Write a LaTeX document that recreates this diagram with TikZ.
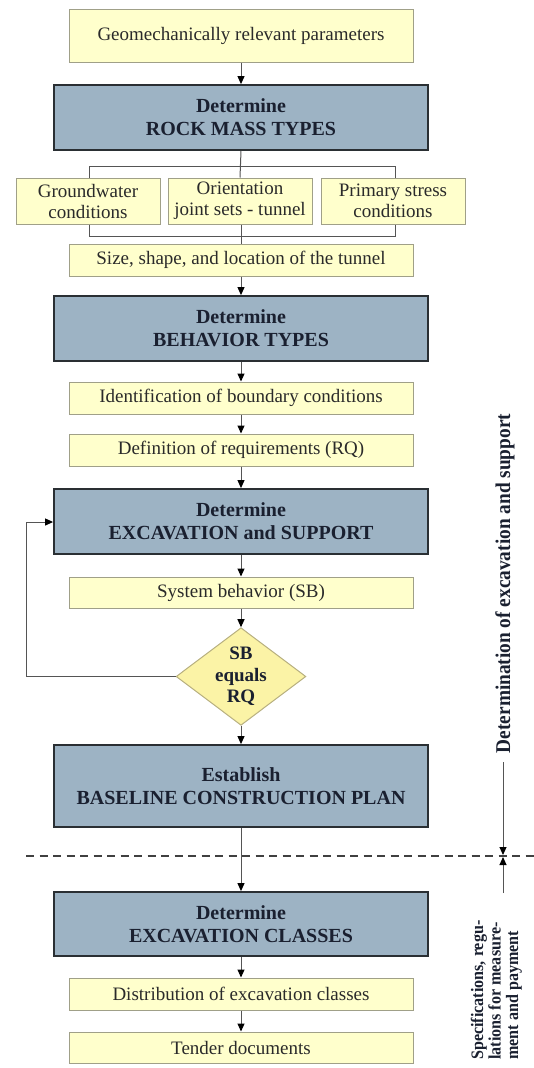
\documentclass[tikz,border=0pt]{standalone}
\usepackage{fontspec}
\setmainfont{Liberation Serif}
\usetikzlibrary{shapes.geometric,arrows.meta}
\definecolor{ybox}{HTML}{FFFFCC}
\definecolor{yborder}{HTML}{A0A088}
\definecolor{dbox}{HTML}{9DB3C4}
\definecolor{dborder}{HTML}{2A2F33}
\definecolor{dia}{HTML}{FBF3A6}
\definecolor{diaborder}{HTML}{B8B080}
\definecolor{lin}{HTML}{555555}
\definecolor{txt}{HTML}{2A2A2A}
\definecolor{dtxt}{HTML}{1A2030}
\begin{document}
\begin{tikzpicture}[x=1pt,y=-1pt,
 yb/.style={draw=yborder,line width=1pt,fill=ybox,inner sep=0pt,text=txt,
   font=\fontsize{19}{21}\selectfont,align=center,minimum width=344pt,minimum height=32pt},
 sb/.style={yb,minimum width=144pt,minimum height=46pt},
 db/.style={draw=dborder,line width=1.8pt,fill=dbox,minimum width=374pt,minimum height=65pt,
   inner sep=0pt,font=\fontsize{20}{23}\selectfont\bfseries,text=dtxt,align=center},
 dm/.style={diamond,draw=diaborder,line width=1pt,fill=dia,minimum width=124pt,minimum height=93pt,
   inner sep=0pt,aspect=1.33,font=\fontsize{19}{21.5}\selectfont\bfseries,text=dtxt,align=center},
 conn/.style={draw=lin,line width=1pt},
 arr/.style={conn,-{Triangle[length=8pt,width=7pt,color=black]}},
 side/.style={rotate=90,inner sep=0pt,text=dtxt},
]
\useasboundingbox (0,0) rectangle (534,1068);
\fill[white] (0,0) rectangle (534,1068);

\node[yb,minimum height=53pt] (geo) at (241,35.5) {Geomechanically relevant parameters};
\node[db] (rock) at (241,117.5) {Determine\\ROCK MASS TYPES};
\node[sb] (gw) at (88,201) {Groundwater\\conditions};
\node[sb] (ori) at (240,201) {Orientation\\joint sets - tunnel};
\node[sb] (ps) at (393,201) {Primary stress\\conditions};
\node[yb] (size) at (241,260) {Size, shape, and location of the tunnel};
\node[db] (beh) at (241,328.5) {Determine\\BEHAVIOR TYPES};
\node[yb] (ident) at (241,398) {Identification of boundary conditions};
\node[yb] (defn) at (241,450) {Definition of requirements (RQ)};
\node[db] (exc) at (241,521.5) {Determine\\EXCAVATION and SUPPORT};
\node[yb,minimum height=31pt] (sys) at (241,592.5) {System behavior (SB)};
\node[dm] (eq) at (241,676.5) {SB\\equals\\RQ};
\node[db,minimum height=82pt] (base) at (241,786) {Establish\\BASELINE CONSTRUCTION PLAN};
\node[db,minimum height=64pt] (excl) at (241,924) {Determine\\EXCAVATION CLASSES};
\node[yb] (dist) at (241,994) {Distribution of excavation classes};
\node[yb,minimum height=31pt] (tend) at (241,1047.5) {Tender documents};

% arrows
\draw[arr] (geo) -- (rock);
\draw[arr] (size) -- (beh);
\draw[arr] (beh) -- (ident);
\draw[arr] (ident) -- (defn);
\draw[arr] (defn) -- (exc);
\draw[arr] (exc) -- (sys);
\draw[arr] (sys) -- (eq);
\draw[arr] (eq) -- (base);
\draw[arr] (base) -- (excl);
\draw[arr] (excl) -- (dist);
\draw[arr] (dist) -- (tend);

% brackets
\coordinate (bt1) at (89,166);
\coordinate (bt2) at (395,166);
\coordinate (bb1) at (89,236);
\coordinate (bb2) at (395,236);
\draw[conn] (rock.south) -- (ori.north);
\draw[conn] (gw.north -| bt1) -- (bt1) -- (bt2) -- (ps.north -| bt2);
\draw[conn] (gw.south -| bb1) -- (bb1) -- (bb2) -- (ps.south -| bb2);
\draw[conn] (ori.south -| size.north) -- (size.north);

% feedback loop
\coordinate (fb1) at (26,676.5);
\coordinate (fb2) at (26,522);
\draw[arr] (eq.west) -- (fb1) -- (fb2) -- (exc.west |- fb2);

% dashed separator
\coordinate (d1) at (26,856);
\coordinate (d2) at (534,856);
\draw[draw=black!75,line width=1.3pt,dash pattern=on 8pt off 5.5pt] (d1) -- (d2);

% side annotations
\node[side] (det) at (505,583.5)
  {\scalebox{0.92}[1]{\fontsize{21}{21}\selectfont\bfseries Determination of excavation and support}};
\node[side,anchor=west] (spec) at (497,1060)
  {\scalebox{0.92}[1]{\fontsize{17.5}{17.5}\selectfont\bfseries
   \begin{tabular}{@{}l@{}}Specifications, regu-\\lations for measure-\\ment and payment\end{tabular}}};
\coordinate (a1) at (503,762);
\coordinate (a2) at (503,855);
\coordinate (b1) at (503,893);
\coordinate (b2) at (503,857);
\draw[arr] (a1) -- (a2);
\draw[arr] (b1) -- (b2);
\end{tikzpicture}
\end{document}
